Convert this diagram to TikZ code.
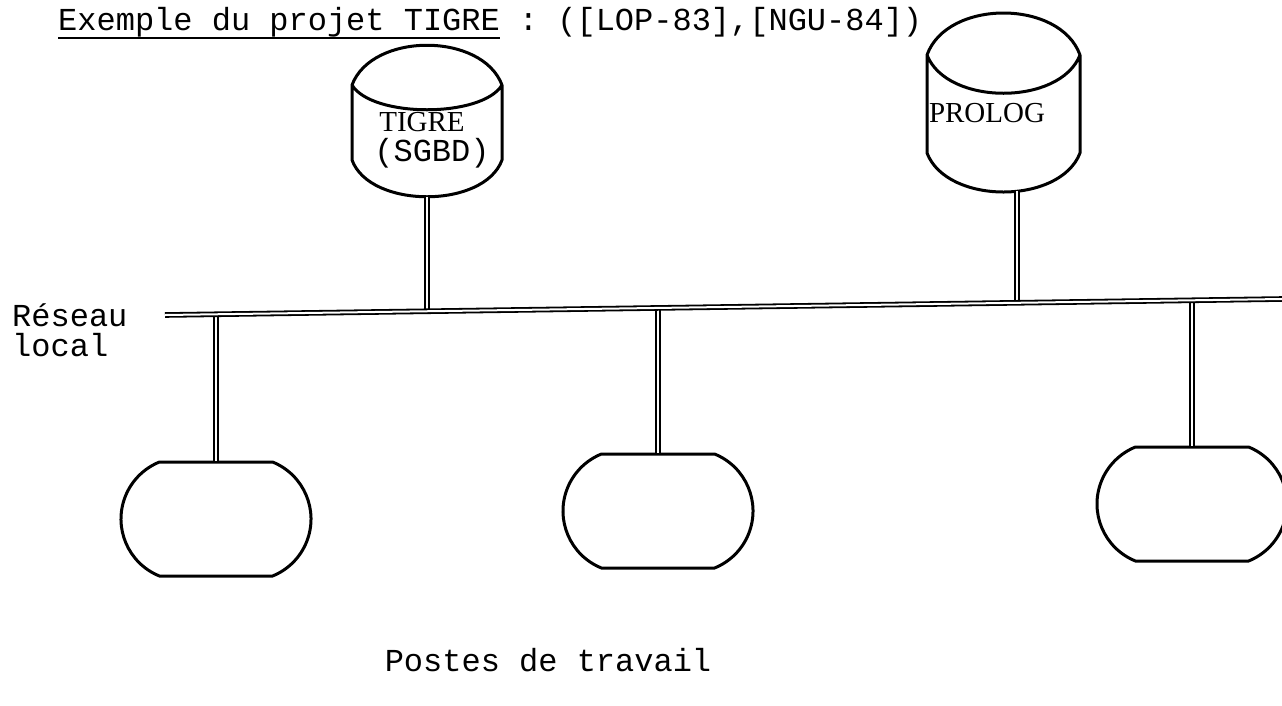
\documentclass[tikz,border=0pt]{standalone}
\usepackage{fontspec}
\setmainfont{Liberation Serif}
\setmonofont{Liberation Mono}
\usetikzlibrary{shapes,positioning,calc}

% soulignement epais
\newcommand{\souligne}[1]{\setbox0\hbox{#1}\rlap{\raisebox{-8.5pt}{\rule{\wd0}{1.6pt}}}\box0\relax}

\begin{document}
\begin{tikzpicture}[x=1pt,y=-1pt]
  \tikzstyle{texte}=[font=\fontsize{32}{30}\selectfont\ttfamily, inner sep=0pt]
  \tikzstyle{nom}=[font=\fontsize{29}{30}\selectfont, inner sep=0pt]
  \tikzstyle{contour}=[line width=3pt, line join=round]
  \tikzstyle{poste}=[draw, rounded rectangle, rounded rectangle arc length=136, line width=3pt, minimum width=190pt, minimum height=114pt, inner sep=0pt]
  \tikzstyle{liaison}=[double, double distance=2pt, line width=1.8pt]

  \useasboundingbox (0,0) rectangle (1282,705);

  % Titre
  \node[texte, anchor=base west] (titre) at (58,30) {\souligne{Exemple du projet TIGRE} : ([LOP-83],[NGU-84])};

  % Bases de donnees
  \draw[contour] (352,85) .. controls (372,32) and (482,32) .. (502,85)
    .. controls (482,118) and (372,118) .. (352,85) -- (352,160)
    .. controls (370,209) and (484,209) .. (502,160) -- (502,85);
  \coordinate (tigre) at (427,197);
  \node[nom] (tigreT) at (422,122) {TIGRE};
  \node[texte] (sgbd) at (432,153) {(SGBD)};

  \draw[contour] (927,55) .. controls (947,-1) and (1060,-1) .. (1080,55)
    .. controls (1060,106) and (947,106) .. (927,55) -- (927,153)
    .. controls (947,205) and (1060,205) .. (1080,153) -- (1080,55);
  \coordinate (prolog) at (1017,191);
  \node[nom] (prologT) at (987,113) {PROLOG};

  % Postes de travail
  \node[poste] (p1) at (216,519) {};
  \node[poste] (p2) at (658,511) {};
  \node[poste] (p3) at (1192,504) {};

  % Reseau local
  \coordinate (reseauG) at (165,315);
  \coordinate (reseauD) at (1282,299);
  \coordinate (r1) at (216,314.3);
  \coordinate (r2) at (427,311.2);
  \coordinate (r3) at (658,307.9);
  \coordinate (r4) at (1017,302.8);
  \coordinate (r5) at (1192,300.3);

  \draw[liaison] (tigre) -- (r2);
  \draw[liaison] (prolog) -- (r4);
  \draw[liaison] (r1) -- (p1.north);
  \draw[liaison] (r3) -- (p2.north);
  \draw[liaison] (r5) -- (p3.north);
  \draw[liaison] (reseauG) -- (reseauD);

  \node[texte, align=left, anchor=north west] (reseau) at (12,303) {Réseau\\local};
  \node[texte] (postes) at (548,660) {Postes de travail};
\end{tikzpicture}
\end{document}
